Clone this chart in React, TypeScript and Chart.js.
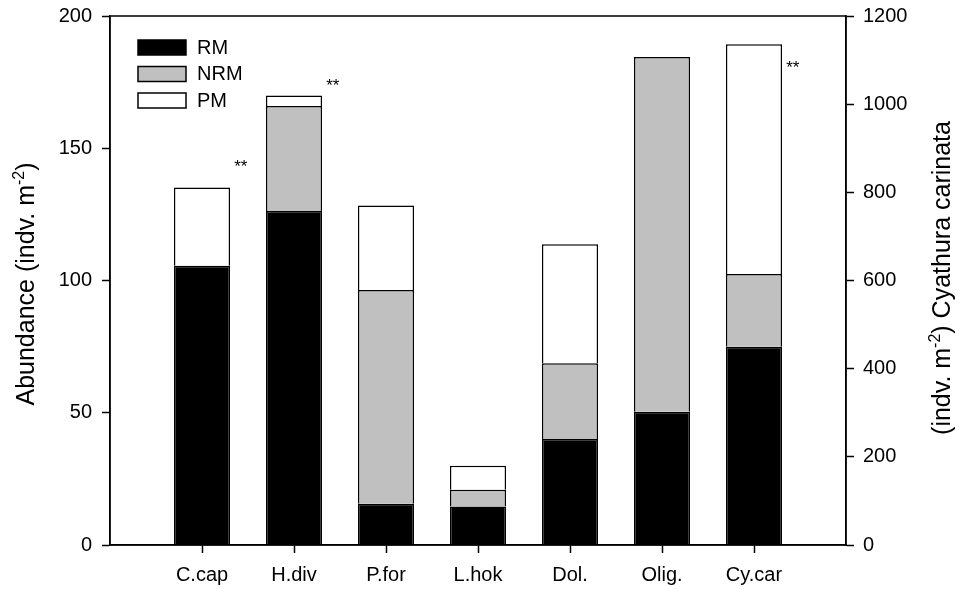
import React, { useEffect, useRef } from 'react';
import { Chart, registerables } from 'chart.js';

Chart.register(...registerables);

const FONT = '"Liberation Sans", Arial, Helvetica, sans-serif';

// Taxa along the x axis
const categories = ['C.cap', 'H.div', 'P.for', 'L.hok', 'Dol.', 'Olig.', 'Cy.car'];

// Abundance (indv. m-2) on the left axis, first six taxa
const rmLeft = [105.6, 126.3, 15.6, 14.6, 40.1, 50.4, null];
const nrmLeft = [null, 39.7, 80.8, 6.3, 28.6, 134.1, null];
const pmLeft = [29.6, 3.9, 32.0, 9.1, 45.0, null, null];

// Cyathura carinata (indv. m-2) on the right axis
const rmRight = [null, null, null, null, null, null, 450];
const nrmRight = [null, null, null, null, null, null, 165];
const pmRight = [null, null, null, null, null, null, 521];

// Significance marks: taxon, axis, value level of the mark
const sigCategories = ['C.cap', 'H.div', 'Cy.car'];
const sigAxes = ['y', 'y', 'y1'];
const sigLevels = [143.5, 173.9, 1084];
const sigText = '**';

const seriesNames = ['RM', 'NRM', 'PM'];
const seriesFills = ['#000000', '#c0c0c0', '#ffffff'];

const leftTicks = [0, 50, 100, 150, 200];
const rightTicks = [0, 200, 400, 600, 800, 1000, 1200];

// blank slots at both ends so the taxa sit at 1..7 on a 0..8 run
const pad = (arr: (number | null)[]) => [null, ...arr, null];
const labels = ['', ...categories, ''];

const framePlugin = {
  id: 'frame',
  afterDatasetsDraw(chart: any) {
    const { ctx, chartArea: a } = chart;
    ctx.save();
    ctx.strokeStyle = '#000';
    ctx.lineWidth = 1.5;
    ctx.strokeRect(a.left, a.top, a.right - a.left, a.bottom - a.top);
    ctx.restore();
  },
};

const legendPlugin = {
  id: 'boxLegend',
  afterDraw(chart: any) {
    const { ctx } = chart;
    ctx.save();
    ctx.font = `20px ${FONT}`;
    ctx.textBaseline = 'middle';
    ctx.textAlign = 'left';
    seriesNames.forEach((name, i) => {
      const x = 138;
      const y = 40 + i * 26.5;
      ctx.fillStyle = seriesFills[i];
      ctx.fillRect(x, y, 48, 15);
      ctx.strokeStyle = '#000';
      ctx.lineWidth = 1.5;
      ctx.strokeRect(x, y, 48, 15);
      ctx.fillStyle = '#000';
      ctx.fillText(name, 197, y + 8);
    });
    ctx.restore();
  },
};

const sigPlugin = {
  id: 'sigMarks',
  afterDraw(chart: any) {
    const { ctx } = chart;
    const xs = chart.scales.x;
    ctx.save();
    ctx.font = `17px ${FONT}`;
    ctx.fillStyle = '#000';
    ctx.textAlign = 'left';
    ctx.textBaseline = 'middle';
    sigCategories.forEach((c, i) => {
      const idx = labels.indexOf(c);
      const step = xs.getPixelForValue(1) - xs.getPixelForValue(0);
      const x = xs.getPixelForValue(idx) + step * 0.35;
      const y = chart.scales[sigAxes[i]].getPixelForValue(sigLevels[i]);
      ctx.fillText(sigText, x, y + 1.5);
    });
    ctx.restore();
  },
};

function drawRotatedTitle(
  ctx: CanvasRenderingContext2D,
  baseX: number,
  centerY: number,
  before: string,
  sup: string,
  after: string
) {
  const main = `25px ${FONT}`;
  const small = `16px ${FONT}`;
  ctx.save();
  ctx.fillStyle = '#000';
  ctx.textBaseline = 'alphabetic';
  ctx.textAlign = 'left';
  ctx.font = main;
  const w1 = ctx.measureText(before).width;
  const w3 = ctx.measureText(after).width;
  ctx.font = small;
  const w2 = ctx.measureText(sup).width;
  const total = w1 + w2 + w3;
  ctx.translate(baseX, centerY);
  ctx.rotate(-Math.PI / 2);
  let x = -total / 2;
  ctx.font = main;
  ctx.fillText(before, x, 0);
  x += w1;
  ctx.font = small;
  ctx.fillText(sup, x, -10);
  x += w2;
  ctx.font = main;
  ctx.fillText(after, x, 0);
  ctx.restore();
}

const titlePlugin = {
  id: 'axisTitles',
  afterDraw(chart: any) {
    const { ctx } = chart;
    drawRotatedTitle(ctx, 34, 284, 'Abundance (indv. m', '-2', ')');
    drawRotatedTitle(ctx, 950, 278, '(indv. m', '-2', ') Cyathura carinata');
  },
};

export default function App() {
  const canvasRef = useRef<HTMLCanvasElement | null>(null);

  useEffect(() => {
    if (!canvasRef.current) return;
    Chart.defaults.font.family = FONT;
    Chart.defaults.color = '#000';

    const mk = (i: number, data: (number | null)[], axis: string) => ({
      label: seriesNames[i],
      data: pad(data),
      yAxisID: axis,
      backgroundColor: seriesFills[i],
      borderColor: '#000',
      borderWidth: { top: 1.5, left: 1.5, right: 1.5, bottom: 0 },
      borderSkipped: false,
      categoryPercentage: 1,
      barPercentage: 0.61,
    });

    const noVPad = (s: any) => {
      s.paddingTop = 0;
      s.paddingBottom = 0;
    };

    const chart = new Chart(canvasRef.current, {
      type: 'bar',
      data: {
        labels,
        datasets: [
          mk(0, rmLeft, 'y'),
          mk(1, nrmLeft, 'y'),
          mk(2, pmLeft, 'y'),
          mk(0, rmRight, 'y1'),
          mk(1, nrmRight, 'y1'),
          mk(2, pmRight, 'y1'),
        ],
      },
      options: {
        animation: false,
        responsive: true,
        maintainAspectRatio: false,
        layout: { padding: { top: 16, left: 0, right: 0, bottom: 0 } },
        plugins: {
          legend: { display: false },
          tooltip: { enabled: false },
        },
        scales: {
          x: {
            type: 'category',
            stacked: true,
            offset: false,
            grid: {
              offset: false,
              drawOnChartArea: false,
              drawTicks: true,
              tickLength: 8,
              tickWidth: 1.5,
              tickColor: (c: any) =>
                c.index === 0 || c.index === labels.length - 1 ? 'rgba(0,0,0,0)' : '#000',
            },
            border: { display: true, color: '#000', width: 1.5 },
            ticks: {
              font: { size: 20 },
              padding: 10,
              autoSkip: false,
              maxRotation: 0,
            },
            afterFit: (s: any) => {
              s.height = 44;
              s.paddingLeft = 0;
              s.paddingRight = 0;
            },
          },
          y: {
            type: 'linear',
            position: 'left',
            stacked: true,
            min: 0,
            max: 200,
            afterBuildTicks: (s: any) => {
              s.ticks = leftTicks.map((v) => ({ value: v }));
            },
            grid: {
              drawOnChartArea: false,
              tickLength: 8,
              tickWidth: 1.5,
              tickColor: '#000',
            },
            border: { display: true, color: '#000', width: 1.5 },
            ticks: { font: { size: 20 }, padding: 10, callback: (v: any) => String(v) },
            afterFit: (s: any) => {
              s.width = 110;
              noVPad(s);
            },
          },
          y1: {
            type: 'linear',
            position: 'right',
            stacked: true,
            min: 0,
            max: 1200,
            afterBuildTicks: (s: any) => {
              s.ticks = rightTicks.map((v) => ({ value: v }));
            },
            grid: {
              drawOnChartArea: false,
              tickLength: 8,
              tickWidth: 1.5,
              tickColor: '#000',
            },
            border: { display: true, color: '#000', width: 1.5 },
            ticks: { font: { size: 20 }, padding: 9, callback: (v: any) => String(v) },
            afterFit: (s: any) => {
              s.width = 115;
              noVPad(s);
            },
          },
        },
      } as any,
      plugins: [framePlugin, legendPlugin, sigPlugin, titlePlugin],
    });

    return () => chart.destroy();
  }, []);

  return (
    <div
      style={{
        position: 'fixed',
        left: 0,
        top: 0,
        width: 961,
        height: 589,
        background: '#fff',
      }}
    >
      <canvas ref={canvasRef} />
    </div>
  );
}
